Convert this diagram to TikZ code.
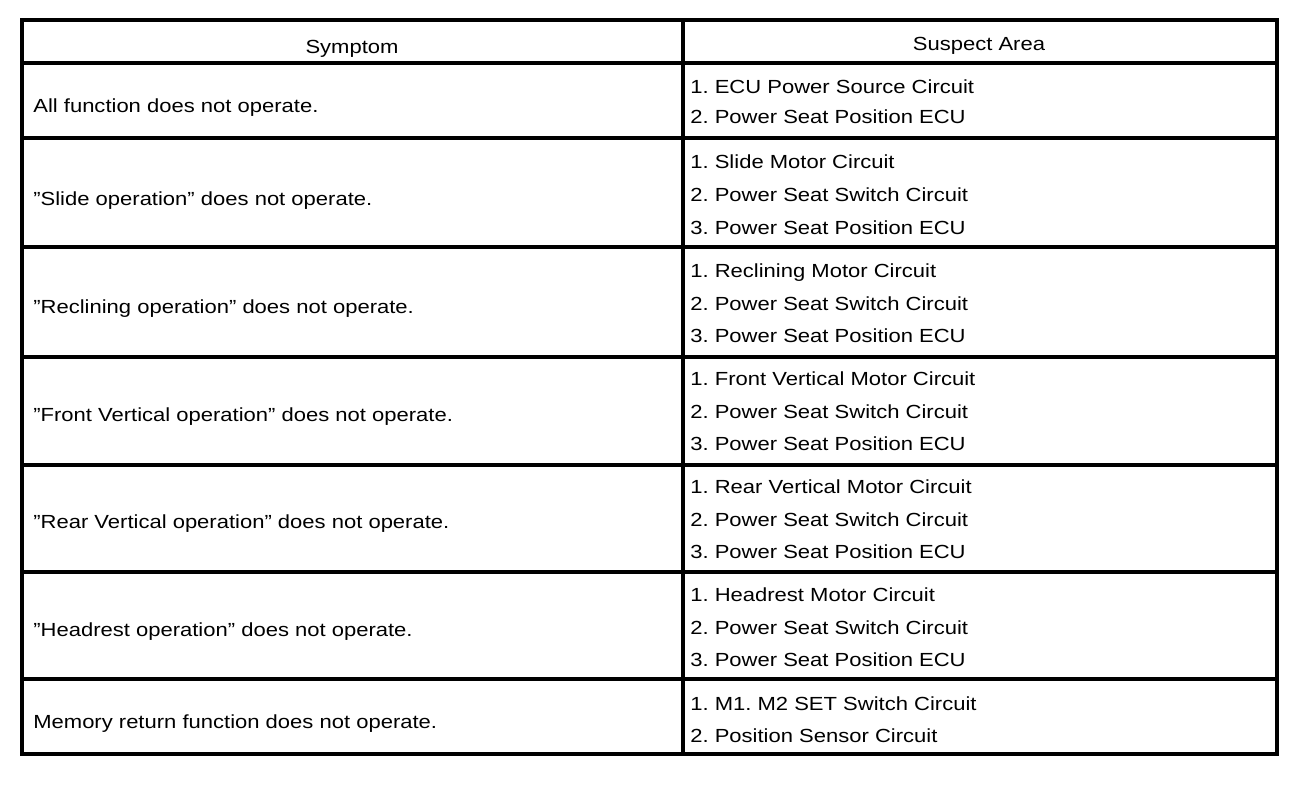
\documentclass[tikz,border=0pt]{standalone}
\usepackage{fontspec}
\setmainfont{Liberation Sans}[FakeStretch=1.16]
\frenchspacing
\tikzset{
  rule/.style={line width=1.8pt},
  txt/.style={anchor=base west, inner sep=0pt, font=\fontsize{10.8}{13}\selectfont},
  head/.style={anchor=base, inner sep=0pt, font=\fontsize{10.8}{13}\selectfont}
}
\begin{document}
\begin{tikzpicture}[x=0.02cm,y=-0.02cm]
   \useasboundingbox (0,0) rectangle (1312,798);

   \draw[rule] (22,20) rectangle (1277,754);
   \draw[rule] (683,20) -- (683,754);
   \draw[rule] (22,63) -- (1277,63);
   \draw[rule] (22,138) -- (1277,138);
   \draw[rule] (22,247) -- (1277,247);
   \draw[rule] (22,357) -- (1277,357);
   \draw[rule] (22,465) -- (1277,465);
   \draw[rule] (22,572) -- (1277,572);
   \draw[rule] (22,679) -- (1277,679);

   \node[head] (symhead) at (352,53) {Symptom};
   \node[head] (sushead) at (979,50) {Suspect Area};

   \node[txt] (sym1) at (33,112) {All function does not operate.};
   \node[txt] (sus1a) at (690,93) {1. ECU Power Source Circuit};
   \node[txt] (sus1b) at (690,123) {2. Power Seat Position ECU};

   \node[txt] (sym2) at (33,205) {”Slide operation” does not operate.};
   \node[txt] (sus2a) at (690,168) {1. Slide Motor Circuit};
   \node[txt] (sus2b) at (690,201) {2. Power Seat Switch Circuit};
   \node[txt] (sus2c) at (690,234) {3. Power Seat Position ECU};

   \node[txt] (sym3) at (33,313) {”Reclining operation” does not operate.};
   \node[txt] (sus3a) at (690,277) {1. Reclining Motor Circuit};
   \node[txt] (sus3b) at (690,310) {2. Power Seat Switch Circuit};
   \node[txt] (sus3c) at (690,342) {3. Power Seat Position ECU};

   \node[txt] (sym4) at (33,421) {”Front Vertical operation” does not operate.};
   \node[txt] (sus4a) at (690,385) {1. Front Vertical Motor Circuit};
   \node[txt] (sus4b) at (690,418) {2. Power Seat Switch Circuit};
   \node[txt] (sus4c) at (690,450) {3. Power Seat Position ECU};

   \node[txt] (sym5) at (33,528) {”Rear Vertical operation” does not operate.};
   \node[txt] (sus5a) at (690,493) {1. Rear Vertical Motor Circuit};
   \node[txt] (sus5b) at (690,526) {2. Power Seat Switch Circuit};
   \node[txt] (sus5c) at (690,558) {3. Power Seat Position ECU};

   \node[txt] (sym6) at (33,636) {”Headrest operation” does not operate.};
   \node[txt] (sus6a) at (690,601) {1. Headrest Motor Circuit};
   \node[txt] (sus6b) at (690,634) {2. Power Seat Switch Circuit};
   \node[txt] (sus6c) at (690,666) {3. Power Seat Position ECU};

   \node[txt] (sym7) at (33,728) {Memory return function does not operate.};
   \node[txt] (sus7a) at (690,710) {1. M1. M2 SET Switch Circuit};
   \node[txt] (sus7b) at (690,742) {2. Position Sensor Circuit};
\end{tikzpicture}
\end{document}
